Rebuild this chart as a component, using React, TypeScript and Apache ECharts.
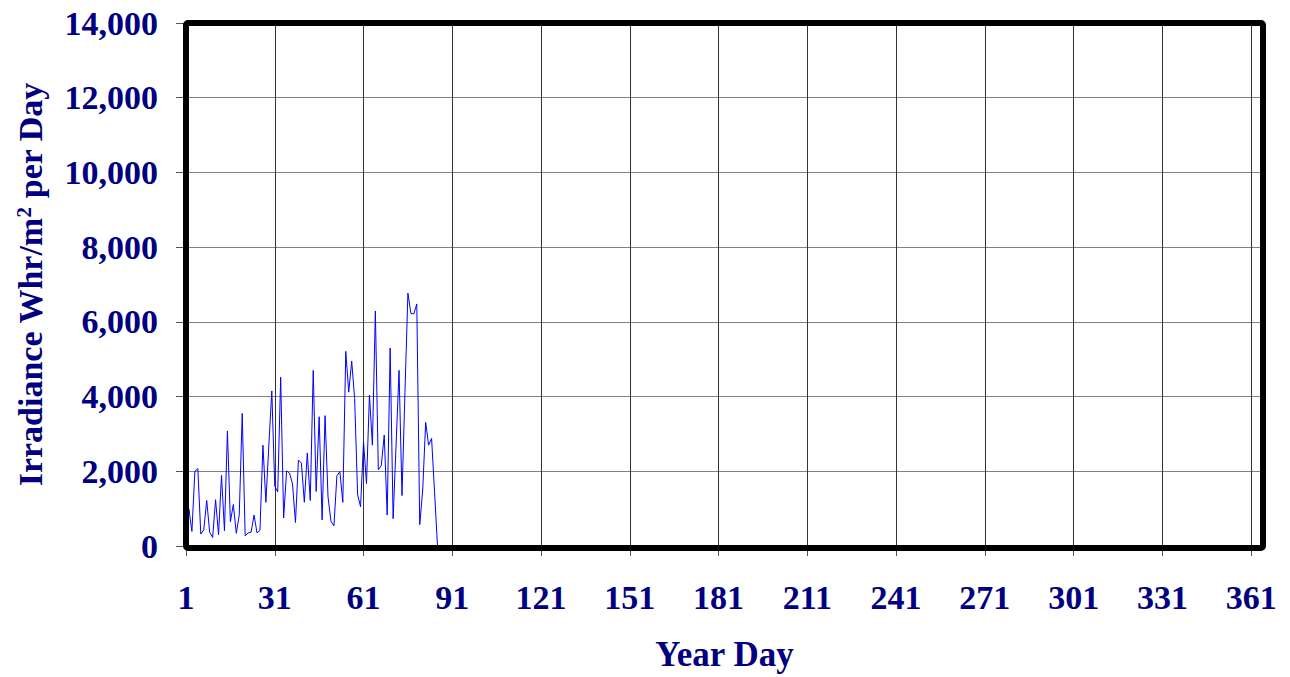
import React, { useEffect, useRef } from "react";
import * as echarts from "echarts";

// Year day (1-based) and irradiance values
const irradiance: number[] = [
  190, 980, 390, 2000, 2070, 320, 430, 1220, 370, 230,
  1240, 300, 1890, 410, 3080, 650, 1110, 340, 830, 3550,
  270, 350, 370, 830, 350, 420, 2700, 1170, 2700, 4150,
  1600, 1450, 4520, 750, 2010, 1950, 1660, 630, 2300, 2220,
  1170, 2490, 1220, 4700, 1460, 3460, 700, 3490, 1310, 660,
  540, 1880, 1990, 1170, 5210, 4120, 4950, 3950, 1370, 1050,
  2790, 1670, 4040, 2700, 6290, 2040, 2150, 2970, 830, 5300,
  730, 2700, 4700, 1350, 4100, 6770, 6230, 6210, 6480, 570,
  1500, 3310, 2700, 2880, 1450, 0,
];
const firstDay = 1;
const lastAxisDay = 365;
const dayTickStep = 30;
const yMax = 14000;
const yStep = 2000;

const NAVY = "#000080";
const FONT = "'Liberation Serif', 'Times New Roman', serif";

const GRID = { left: 186, top: 23, right: 27, bottom: 129 };
const W = 1290;
const H = 677;

export default function App() {
  const ref = useRef<HTMLDivElement>(null);
  useEffect(() => {
    if (!ref.current) return;
    const chart = echarts.init(ref.current, undefined, { renderer: "svg" });
    const data = irradiance.map((v, i) => [i, v]);
    chart.setOption({
      animation: false,
      backgroundColor: "#ffffff",
      grid: { ...GRID, show: false },
      graphic: [
        {
          type: "rect",
          z: 100,
          silent: true,
          shape: {
            x: GRID.left,
            y: GRID.top,
            width: W - GRID.left - GRID.right,
            height: H - GRID.top - GRID.bottom,
            r: 2,
          },
          style: { fill: "none", stroke: "#000", lineWidth: 6 },
        },
      ],
      xAxis: {
        type: "value",
        min: 0,
        max: lastAxisDay - firstDay,
        interval: dayTickStep,
        name: "Year Day",
        nameLocation: "middle",
        nameGap: 91,
        nameTextStyle: { color: NAVY, fontSize: 35, fontWeight: "bold", fontFamily: FONT },
        axisLine: { show: false },
        axisTick: { show: true, inside: false, length: 10, lineStyle: { color: "#555" } },
        axisLabel: {
          color: NAVY,
          fontSize: 34,
          fontWeight: "bold",
          fontFamily: FONT,
          margin: 34,
          showMaxLabel: false,
          formatter: (v: number) => String(v + firstDay),
        },
        splitLine: { show: true, lineStyle: { color: "#333", width: 1 } },
      },
      yAxis: {
        type: "value",
        min: 0,
        max: yMax,
        interval: yStep,
        name: "Irradiance Whr/m{sup|2} per Day",
        nameLocation: "middle",
        nameRotate: 90,
        nameGap: 139,
        nameTextStyle: {
          color: NAVY,
          fontSize: 34,
          fontWeight: "bold",
          fontFamily: FONT,
          rich: {
            sup: {
              color: NAVY,
              fontSize: 21,
              fontWeight: "bold",
              fontFamily: FONT,
              verticalAlign: "top",
            },
          },
        },
        axisLine: { show: false },
        axisTick: { show: true, inside: false, length: 10, lineStyle: { color: "#555" } },
        axisLabel: {
          color: NAVY,
          fontSize: 34,
          fontWeight: "bold",
          fontFamily: FONT,
          margin: 28,
          formatter: (v: number) => v.toLocaleString("en-US"),
        },
        splitLine: { show: true, lineStyle: { color: "#808080", width: 1 } },
      },
      series: [
        {
          type: "line",
          data,
          symbol: "none",
          lineStyle: { color: "#0000ff", width: 1 },
          z: 1,
        },
      ],
    });
    return () => chart.dispose();
  }, []);
  return (
    <div
      ref={ref}
      style={{ position: "absolute", left: 0, top: 0, width: W, height: H }}
    />
  );
}
